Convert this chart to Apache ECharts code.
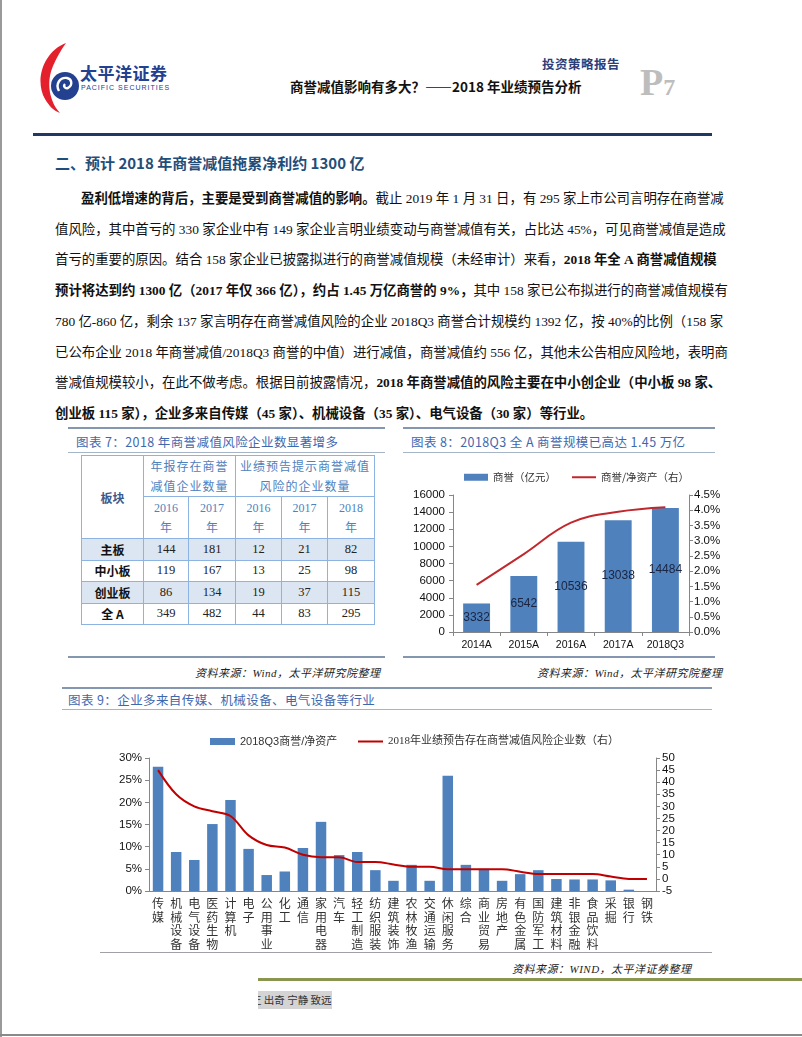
<!DOCTYPE html>
<html lang="zh-CN">
<head>
<meta charset="utf-8">
<script src="https://cdn.jsdelivr.net/npm/echarts@6/dist/echarts.min.js"></script>
<style>
html,body{margin:0;padding:0;background:#fff;}
#page{position:relative;width:802px;height:1037px;overflow:hidden;background:#fff;font-family:"Liberation Serif","Noto Sans CJK SC",serif;color:#111;}
.abs{position:absolute;white-space:nowrap;}
.pline{position:absolute;left:55px;width:657px;font-size:13.4px;line-height:18px;text-align:justify;text-align-last:justify;white-space:nowrap;}
.pline b{font-family:"Liberation Serif","Noto Sans CJK SC";font-weight:700;}
.hr{position:absolute;}
.cap{position:absolute;font-family:"Noto Sans CJK SC";font-size:12.5px;color:#3F67AE;white-space:nowrap;letter-spacing:0.4px;}
.src{position:absolute;font-family:"Liberation Serif","Noto Sans CJK SC";font-style:italic;font-size:11px;color:#222;white-space:nowrap;letter-spacing:0.5px;}
table.t{position:absolute;left:81px;top:455px;border-collapse:collapse;border:1.5px solid #4F81BD;font-size:11.5px;}
table.t td{border:1px solid #8DB3E2;text-align:center;padding:0;}
table.t .h{color:#4F81BD;font-family:"Noto Sans CJK SC";letter-spacing:1px;line-height:20px;font-size:12px;}
table.t .y{color:#4F81BD;font-family:"Liberation Serif","Noto Sans CJK SC";line-height:20px;font-size:12px;}
table.t .lab{font-family:"Noto Sans CJK SC";font-weight:700;color:#111;font-size:12px;}
table.t .num{font-family:"Liberation Serif";font-size:12.5px;color:#222;}
table.t tr.sh td{background:#DCE6F2;}
</style>
</head>
<body>
<div id="page">
  <div class="hr" style="left:0;top:0;width:2px;height:1037px;background:#9a9a9a;"></div>
  <div class="hr" style="left:0;top:1034px;width:802px;height:2px;background:#8a8a8a;"></div>

  <svg class="abs" style="left:37px;top:42px;" width="46" height="72" viewBox="0 0 46 72">
    <path d="M29 1 C7 9 -3 38 8 57 C12 64 17 69 23 71 C12 59 9 40 16 24 C20 15 24 8 29 1 Z" fill="#E3202B"/>
    <circle cx="28" cy="44" r="14" fill="#23418F"/>
    <path d="M22 49 C18 42 23 35 30 36 C35 37 36 43 31 46 C28 47 26 44 28 42" stroke="#fff" stroke-width="2.4" fill="none"/>
  </svg>
  <div class="abs" style="left:80px;top:60px;font-family:'Noto Sans CJK SC';font-weight:700;font-size:17px;color:#23418F;letter-spacing:0.5px;">太平洋证券</div>
  <div class="abs" style="left:81px;top:84px;font-family:'Liberation Sans';font-size:7px;color:#23418F;letter-spacing:1px;">PACIFIC SECURITIES</div>
  <div class="abs" style="left:290px;top:76px;font-family:'Noto Sans CJK SC';font-weight:700;font-size:13.5px;color:#111;">商誉减值影响有多大？——2018 年业绩预告分析</div>
  <div class="abs" style="left:542px;top:54px;font-family:'Noto Sans CJK SC';font-weight:700;font-size:12.5px;color:#2C3E7A;letter-spacing:0.5px;">投资策略报告</div>
  <div class="abs" style="left:640px;top:63px;font-family:'Liberation Serif';font-weight:700;font-size:38px;line-height:38px;color:#BDBDBD;">P<span style="font-size:24px;">7</span></div>
  <div class="hr" style="left:33px;top:133px;width:679px;height:3px;background:#1F3864;"></div>

  <div class="abs" style="left:55px;top:152px;font-family:'Noto Sans CJK SC';font-weight:700;font-size:15px;color:#1F4E79;">二、预计 2018 年商誉减值拖累净利约 1300 亿</div>

  <div id="para"></div>

  <div class="hr" style="left:68px;top:427px;width:317px;height:2px;background:#8496B0;"></div>
  <div class="hr" style="left:403px;top:427px;width:312px;height:2px;background:#8496B0;"></div>
  <div class="cap" style="left:76px;top:432px;">图表 7：2018 年商誉减值风险企业数显著增多</div>
  <div class="cap" style="left:411px;top:432px;">图表 8：2018Q3 全 A 商誉规模已高达 1.45 万亿</div>
  <div class="hr" style="left:68px;top:452px;width:317px;height:1px;background:#A6B4C8;"></div>
  <div class="hr" style="left:403px;top:452px;width:312px;height:1px;background:#A6B4C8;"></div>

  <table class="t" id="tbl"></table>

  <div id="c8" style="position:absolute;left:400px;top:455px;width:330px;height:200px;"></div>

  <div class="hr" style="left:68px;top:656px;width:317px;height:2px;background:#8496B0;"></div>
  <div class="hr" style="left:403px;top:656px;width:312px;height:2px;background:#8496B0;"></div>
  <div class="src" style="left:195px;top:664px;">资料来源：Wind，太平洋研究院整理</div>
  <div class="src" style="left:537px;top:664px;">资料来源：Wind，太平洋研究院整理</div>

  <div class="hr" style="left:62px;top:687px;width:650px;height:2px;background:#8496B0;"></div>
  <div class="cap" style="left:68px;top:690px;">图表 9：企业多来自传媒、机械设备、电气设备等行业</div>
  <div class="hr" style="left:62px;top:709px;width:650px;height:1px;background:#A6B4C8;"></div>

  <div id="c9" style="position:absolute;left:60px;top:712px;width:700px;height:240px;"></div>

  <div class="hr" style="left:100px;top:952px;width:612px;height:1px;background:#A0A0A8;"></div>
  <div class="src" style="left:512px;top:960px;">资料来源：WIND，太平洋证券整理</div>

  <div class="hr" style="left:258px;top:978px;width:544px;height:3px;background:#8A9550;"></div>
  <div class="abs" style="left:258px;top:991px;width:74px;height:18px;overflow:hidden;background:#D4D4D4;">
    <div style="position:absolute;left:-7px;top:0;font-family:'Noto Sans CJK SC';font-size:10.5px;line-height:18px;color:#333;white-space:nowrap;">正 出奇 宁静 致远</div>
  </div>
</div>

<script>
const paraLines = [
  '<b>盈利低增速的背后，主要是受到商誉减值的影响。</b>截止 2019 年 1 月 31 日，有 295 家上市公司言明存在商誉减',
  '值风险，其中首亏的 330 家企业中有 149 家企业言明业绩变动与商誉减值有关，占比达 45%，可见商誉减值是造成',
  '首亏的重要的原因。结合 158 家企业已披露拟进行的商誉减值规模（未经审计）来看，<b>2018 年全 A 商誉减值规模</b>',
  '<b>预计将达到约 1300 亿（2017 年仅 366 亿），约占 1.45 万亿商誉的 9%，</b>其中 158 家已公布拟进行的商誉减值规模有',
  '780 亿-860 亿，剩余 137 家言明存在商誉减值风险的企业 2018Q3 商誉合计规模约 1392 亿，按 40%的比例（158 家',
  '已公布企业 2018 年商誉减值/2018Q3 商誉的中值）进行减值，商誉减值约 556 亿，其他未公告相应风险地，表明商',
  '誉减值规模较小，在此不做考虑。根据目前披露情况，<b>2018 年商誉减值的风险主要在中小创企业（中小板 98 家、</b>',
  '<b>创业板 115 家），企业多来自传媒（45 家）、机械设备（35 家）、电气设备（30 家）等行业。</b>'
];
(function(){
  const host = document.getElementById('para');
  paraLines.forEach((t,i)=>{
    const d = document.createElement('div');
    d.className='pline';
    d.style.top = (190 + i*30.7) + 'px';
    if(i===0){ d.style.left='81px'; d.style.width='631px'; }
    if(i===paraLines.length-1){ d.style.textAlign='left'; d.style.textAlignLast='left'; }
    d.innerHTML = t;
    host.appendChild(d);
  });
})();

const boards = ['主板','中小板','创业板','全 A'];
const annual2016 = [144,119,86,349];
const annual2017 = [181,167,134,482];
const warn2016 = [12,13,19,44];
const warn2017 = [21,25,37,83];
const warn2018 = [82,98,115,295];
(function(){
  const colW = [62,45,47,46,46,47];
  const tb = document.getElementById('tbl');
  let html = '<colgroup>' + colW.map(w=>'<col style="width:'+w+'px">').join('') + '</colgroup>';
  html += '<tr style="height:41px"><td rowspan="2" class="lab" style="color:#3A5A8C;">板块</td>'+
          '<td colspan="2" class="h">年报存在商誉<br>减值企业数量</td>'+
          '<td colspan="3" class="h">业绩预告提示商誉减值<br>风险的企业数量</td></tr>';
  html += '<tr style="height:42px">' + ['2016','2017','2016','2017','2018'].map(y=>'<td class="y">'+y+'<br>年</td>').join('') + '</tr>';
  boards.forEach((b,i)=>{
    html += '<tr style="height:21.5px" class="'+(i%2===0?'sh':'')+'"><td class="lab">'+b+'</td>'+
      [annual2016[i],annual2017[i],warn2016[i],warn2017[i],warn2018[i]].map(v=>'<td class="num">'+v+'</td>').join('')+'</tr>';
  });
  tb.innerHTML = html;
})();

const years8 = ['2014A','2015A','2016A','2017A','2018Q3'];
const goodwill = [3332,6542,10536,13038,14484];
const gwToNetAsset = [1.55,2.56,3.59,3.95,4.10];

const c8 = echarts.init(document.getElementById('c8'));
c8.setOption({
  animation:false,
  legend:[
    {top:12, left:59, itemWidth:24, itemHeight:7,
     textStyle:{fontFamily:'Noto Sans CJK SC', fontSize:10.5, color:'#333'},
     data:[{name:'商誉（亿元）', icon:'rect'}]},
    {top:12, left:167, itemWidth:24, itemHeight:2, icon:'rect',
     textStyle:{fontFamily:'Noto Sans CJK SC', fontSize:10.5, color:'#333'},
     data:[{name:'商誉/净资产（右）', icon:'rect'}]}
  ],
  grid:{left:53, top:40, width:236, height:137},
  xAxis:{
    type:'category', data:years8,
    axisLine:{lineStyle:{color:'#868686'}},
    axisTick:{show:true, length:4, lineStyle:{color:'#868686'}},
    axisLabel:{interval:0, fontFamily:'Liberation Sans', fontSize:10.5, color:'#111', margin:8}
  },
  yAxis:[
    {type:'value', min:0, max:16000, interval:2000,
     axisLine:{show:true, lineStyle:{color:'#868686'}},
     axisTick:{show:true, length:4, lineStyle:{color:'#868686'}},
     splitLine:{show:false},
     axisLabel:{fontFamily:'Liberation Sans', fontSize:11.5, color:'#111', margin:8, formatter:v=>String(v)}},
    {type:'value', min:0, max:4.5, interval:0.5,
     axisLine:{show:true, lineStyle:{color:'#868686'}},
     axisTick:{show:true, length:4, lineStyle:{color:'#868686'}},
     splitLine:{show:false},
     axisLabel:{fontFamily:'Liberation Sans', fontSize:11.5, color:'#111', margin:5,
       formatter:v=>v.toFixed(1)+'%'}}
  ],
  series:[
    {name:'商誉（亿元）', type:'bar', data:goodwill, barWidth:'57%',
     itemStyle:{color:'#4F81BD'},
     label:{show:true, position:'inside', fontFamily:'Liberation Sans', fontSize:12, color:'#1B2440'}},
    {name:'商誉/净资产（右）', type:'line', yAxisIndex:1, data:gwToNetAsset, smooth:0.4,
     symbol:'none', lineStyle:{color:'#C0282D', width:2}, itemStyle:{color:'#C0282D'},
     label:{show:true, position:'top', distance:9, fontFamily:'Liberation Sans', fontSize:12.5, color:'#111',
       formatter:p=>p.value.toFixed(2)+'%'}}
  ]
});

const industries = ['传媒','机械设备','电气设备','医药生物','计算机','电子','公用事业','化工','通信','家用电器',
  '汽车','轻工制造','纺织服装','建筑装饰','农林牧渔','交通运输','休闲服务','综合','商业贸易','房地产',
  '有色金属','国防军工','建筑材料','非银金融','食品饮料','采掘','银行','钢铁'];
const goodwillToNetAssetQ3 = [28.0,8.8,7.0,15.1,20.5,9.5,3.6,4.4,9.7,15.6,
  8.1,8.8,4.7,2.3,5.9,2.3,26.0,5.9,5.0,2.3,
  3.8,4.7,2.7,2.6,2.6,2.4,0.3,0.0];
const riskCompanies = [45,35,30,28,26,18,14,13,10,9,
  9,7,7,6,5,5,4,4,4,4,
  3,2,2,2,2,1,0,0];

const c9 = echarts.init(document.getElementById('c9'));
c9.setOption({
  animation:false,
  legend:[
    {top:19, left:145, itemWidth:25, itemHeight:7,
     textStyle:{fontFamily:'Liberation Sans, Noto Sans CJK SC', fontSize:11, color:'#333'},
     data:[{name:'2018Q3商誉/净资产', icon:'rect'}]},
    {top:19, left:293, itemWidth:25, itemHeight:2,
     textStyle:{fontFamily:'Liberation Serif, Noto Sans CJK SC', fontSize:11, color:'#333'},
     data:[{name:'2018年业绩预告存在商誉减值风险企业数（右）', icon:'rect'}]}
  ],
  grid:{left:89, top:46, width:507, height:133},
  xAxis:{
    type:'category', data:industries,
    axisLine:{lineStyle:{color:'#868686'}},
    axisTick:{show:false},
    axisLabel:{interval:0, margin:6, fontFamily:'Noto Sans CJK SC', fontSize:12, lineHeight:13.5, color:'#333',
      formatter:v=>v.split('').join('\n')}
  },
  yAxis:[
    {type:'value', min:0, max:30, interval:5,
     axisLine:{show:true, lineStyle:{color:'#868686'}},
     axisTick:{show:true, length:4, lineStyle:{color:'#868686'}},
     splitLine:{show:false},
     axisLabel:{fontFamily:'Liberation Sans', fontSize:11.5, color:'#111', margin:7, formatter:'{value}%'}},
    {type:'value', min:-5, max:50, interval:5,
     axisLine:{show:true, lineStyle:{color:'#868686'}},
     axisTick:{show:true, length:4, lineStyle:{color:'#868686'}},
     splitLine:{show:false},
     axisLabel:{fontFamily:'Liberation Sans', fontSize:11.5, color:'#111', margin:6}}
  ],
  series:[
    {name:'2018Q3商誉/净资产', type:'bar', data:goodwillToNetAssetQ3, barWidth:'58%',
     itemStyle:{color:'#4F81BD'}},
    {name:'2018年业绩预告存在商誉减值风险企业数（右）', type:'line', yAxisIndex:1, data:riskCompanies,
     smooth:0.35, symbol:'none', lineStyle:{color:'#C00000', width:2}, itemStyle:{color:'#C00000'}}
  ]
});
</script>
</body>
</html>
